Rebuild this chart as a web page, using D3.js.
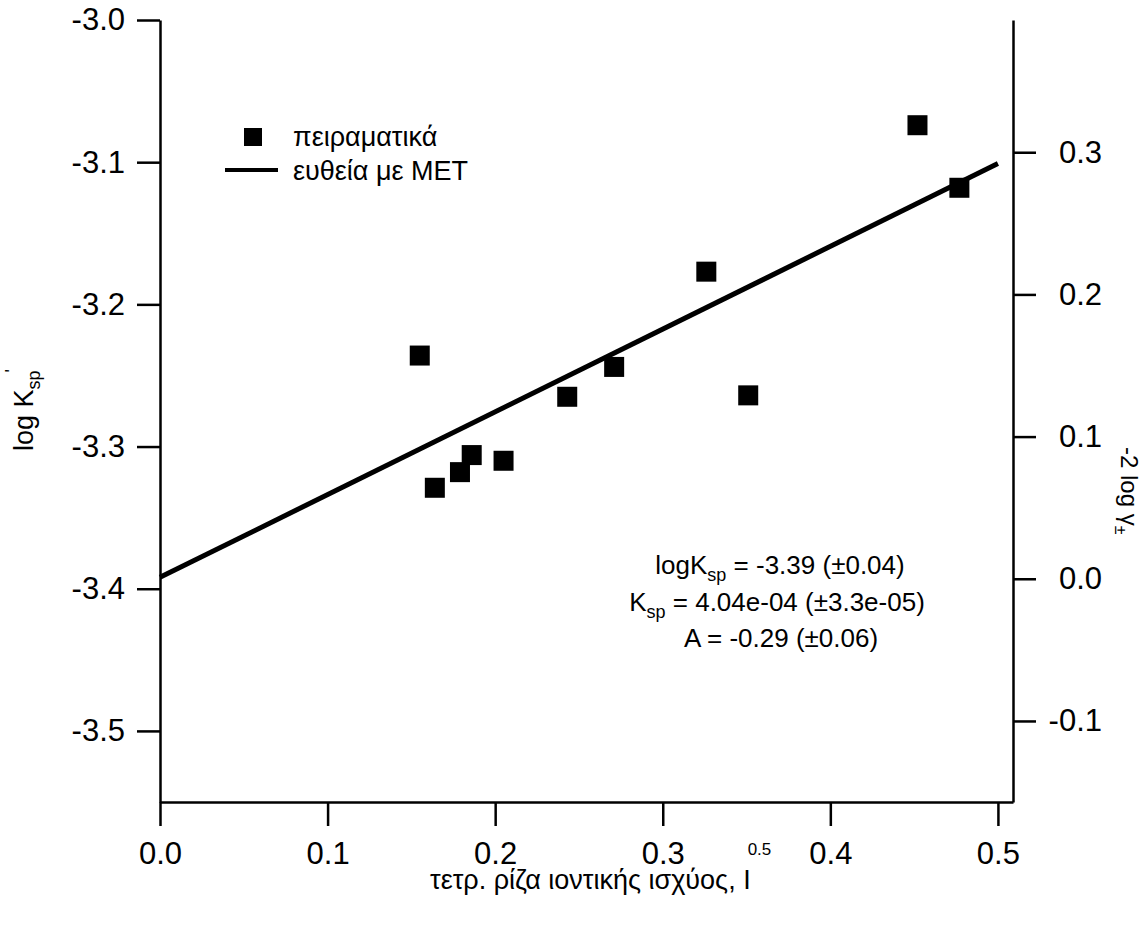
<!DOCTYPE html>
<html>
<head>
<meta charset="utf-8">
<script src="https://cdn.jsdelivr.net/npm/d3@7"></script>
<style>
  body { margin: 0; background: #fff; }
  svg { display: block; font-family: "Liberation Sans", Arial, sans-serif; }
</style>
</head>
<body>
<svg id="chart" width="1146" height="927"></svg>
<script>
// data
const ionicStrength = [0.155, 0.164, 0.179, 0.186, 0.205, 0.243, 0.271, 0.326, 0.351, 0.452, 0.477];
const logKsp = [-3.236, -3.329, -3.318, -3.306, -3.310, -3.265, -3.244, -3.177, -3.264, -3.074, -3.118];
const fitX = [0, 0.5];
const fitY = [-3.392, -3.101];
const xTicks = [0, 0.1, 0.2, 0.3, 0.4, 0.5];
const leftTicks = [-3.5, -3.4, -3.3, -3.2, -3.1, -3.0];
const rightTicks = [-0.1, 0.0, 0.1, 0.2, 0.3];
const rightOffset = 3.393; // -2 log y = logKsp' - logKsp
const legendLabels = ["πειραματικά", "ευθεία με ΜΕΤ"];

const plotLeft = 160, plotTop = 20, plotRight = 1013, plotBottom = 802;

const svg = d3.select("#chart");

const x = d3.scaleLinear().domain([0, 0.509]).range([plotLeft, plotRight]);
const y = d3.scaleLinear().domain([-3.55, -3.0]).range([plotBottom, plotTop]);
const y2 = d3.scaleLinear().domain([-3.55 + rightOffset, -3.0 + rightOffset]).range([plotBottom, plotTop]);

const fmt = d => (Math.abs(d) < 1e-9 ? 0 : d).toFixed(1);

function styleAxis(g) {
  g.selectAll("path, line").attr("stroke", "#000").attr("stroke-width", 2.5);
  g.selectAll("text").attr("font-size", 31).attr("fill", "#000")
    .attr("font-family", '"Liberation Sans", Arial, sans-serif');
}

svg.append("g")
  .attr("transform", `translate(0,${plotBottom})`)
  .call(d3.axisBottom(x).tickValues(xTicks).tickFormat(fmt).tickSize(24).tickSizeOuter(0).tickPadding(16))
  .call(styleAxis);

svg.append("g")
  .attr("transform", `translate(${plotLeft},0)`)
  .call(d3.axisLeft(y).tickValues(leftTicks).tickFormat(fmt).tickSize(23).tickSizeOuter(0).tickPadding(12))
  .call(styleAxis);

// right-hand labels are right-aligned in the original
svg.append("g")
  .attr("transform", `translate(${plotRight},0)`)
  .call(d3.axisRight(y2).tickValues(rightTicks).tickFormat(fmt).tickSize(23).tickSizeOuter(0))
  .call(styleAxis)
  .call(g => g.selectAll(".tick text").attr("x", 89).attr("text-anchor", "end"));

// fit line
const fit = fitX.map((v, i) => [v, fitY[i]]);
svg.append("path")
  .datum(fit)
  .attr("fill", "none")
  .attr("stroke", "#000")
  .attr("stroke-width", 5)
  .attr("d", d3.line().x(d => x(d[0])).y(d => y(d[1])));

// markers
const sz = 20;
svg.append("g").selectAll("rect")
  .data(ionicStrength.map((v, i) => [v, logKsp[i]]))
  .join("rect")
  .attr("x", d => x(d[0]) - sz / 2)
  .attr("y", d => y(d[1]) - sz / 2)
  .attr("width", sz)
  .attr("height", sz)
  .attr("fill", "#000");

// legend
const lg = svg.append("g").attr("font-size", 27);
lg.append("rect").attr("x", 244).attr("y", 128).attr("width", 18).attr("height", 18).attr("fill", "#000");
lg.append("text").attr("x", 293).attr("y", 146).text(legendLabels[0]);
lg.append("line").attr("x1", 225).attr("x2", 278).attr("y1", 170).attr("y2", 170)
  .attr("stroke", "#000").attr("stroke-width", 4);
lg.append("text").attr("x", 293).attr("y", 180).text(legendLabels[1]);

// fit annotation
const ann = svg.append("g").attr("font-size", 26).attr("text-anchor", "middle");
const t1 = ann.append("text").attr("x", 780).attr("y", 574);
t1.append("tspan").text("logK");
t1.append("tspan").attr("font-size", 18).attr("dy", 7).text("sp");
t1.append("tspan").attr("dy", -7).text(" = -3.39 (±0.04)");
const t2 = ann.append("text").attr("x", 777).attr("y", 611);
t2.append("tspan").text("K");
t2.append("tspan").attr("font-size", 18).attr("dy", 7).text("sp");
t2.append("tspan").attr("dy", -7).text(" = 4.04e-04 (±3.3e-05)");
ann.append("text").attr("x", 781).attr("y", 647).text("A = -0.29 (±0.06)");

// axis titles
const xt = svg.append("text").attr("x", 430).attr("y", 889).attr("font-size", 27);
xt.append("tspan").text("τετρ. ρίζα ιοντικής ισχύος, I");
xt.append("tspan").attr("font-size", 17).attr("dx", -3).attr("dy", -34).text("0.5");

const yt = svg.append("text").attr("transform", "translate(33,451) rotate(-90)").attr("font-size", 27);
yt.append("tspan").text("log K");
yt.append("tspan").attr("font-size", 18).attr("dy", 7).text("sp");
yt.append("tspan").attr("font-size", 18).attr("dy", -22).attr("dx", -2).text("'");

const rt = svg.append("text").attr("transform", "translate(1121,447) rotate(90)").attr("font-size", 24);
rt.append("tspan").text("-2 log γ");
rt.append("tspan").attr("font-size", 16).attr("dy", 6).text("±");
</script>
</body>
</html>
